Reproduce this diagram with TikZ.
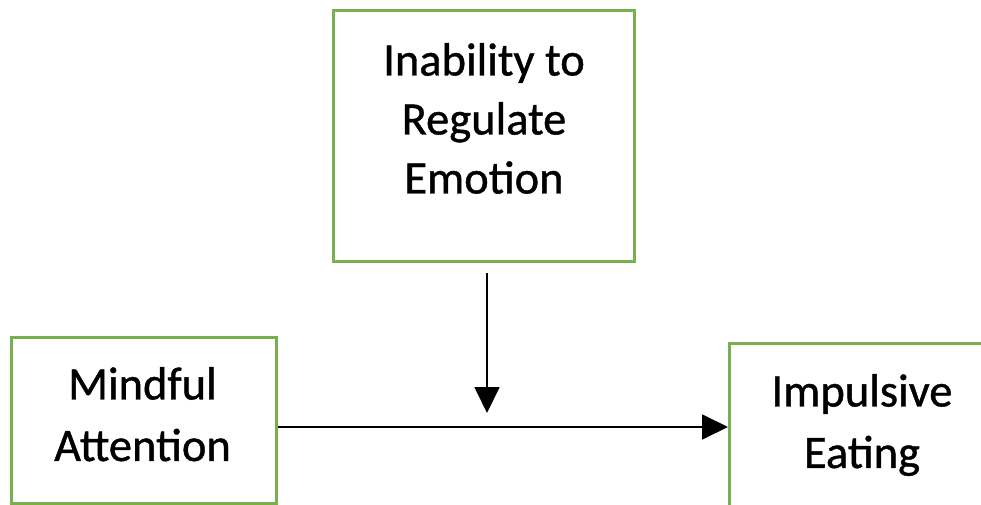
\documentclass[tikz,border=0pt]{standalone}
\usepackage{fontspec}
\setmainfont{Carlito}
\newfontfamily\boxfont{Carlito}[FakeBold=0.9]
\usetikzlibrary{arrows.meta}
\definecolor{boxgreen}{HTML}{78B04F}
\tikzset{
  frame/.style={draw=boxgreen, line width=3pt, fill=white, inner sep=0pt},
  label text/.style={font=\boxfont\fontsize{46.5}{59}\selectfont, align=center, inner sep=0pt, anchor=north},
  label text wide/.style={label text, font=\boxfont\fontsize{46.5}{61.5}\selectfont},
  link/.style={draw=black, line width=1.8pt, -{Triangle[width=25pt,length=26pt]}}
}
\begin{document}
\begin{tikzpicture}[x=1pt, y=-1pt]
  \useasboundingbox (0,0) rectangle (981,505);
  \clip (0,0) rectangle (981,505);
  % boxes
  \node[frame, minimum width=301pt, minimum height=251pt, anchor=north west] (emo) at (332,9) {};
  \node[frame, minimum width=265pt, minimum height=166pt, anchor=north west] (mind) at (10,336) {};
  \node[frame, minimum width=290pt, minimum height=165pt, anchor=north west] (imp) at (728,342) {};
  % box texts
  \node[label text] (emotxt) at (484,43) {Inability to\\Regulate\\Emotion};
  \node[label text wide] (mindtxt) at (142.5,367) {Mindful\\Attention};
  \node[label text wide] (imptxt) at (862,374) {Impulsive\\Eating};
  % connectors
  \coordinate (top) at (487,273);
  \coordinate (meet) at (487,413);
  \draw[link] (mind.east |- 0,427) -- (imp.west |- 0,427);
  \draw[link] (top) -- (meet);
\end{tikzpicture}
\end{document}
